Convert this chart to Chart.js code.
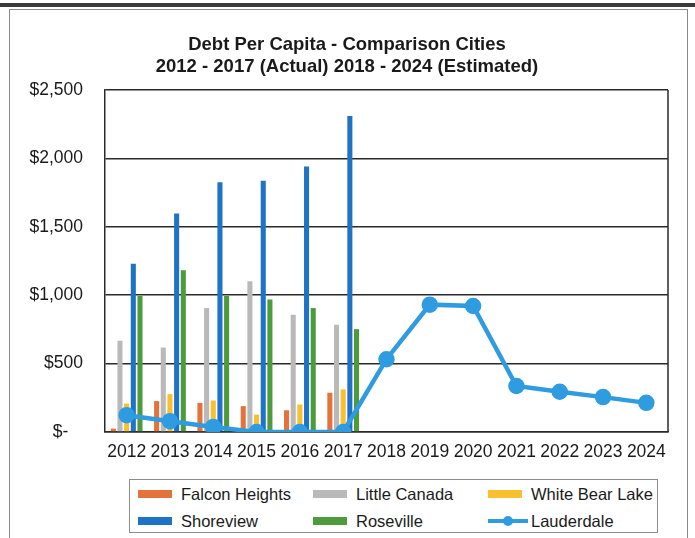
<!DOCTYPE html>
<html>
<head>
<meta charset="utf-8">
<script src="https://cdn.jsdelivr.net/npm/chart.js@4"></script>
<style>
  html, body { margin: 0; padding: 0; background: #fff; }
  body { width: 695px; height: 538px; position: relative; overflow: hidden; font-family: "Liberation Sans", Arial, sans-serif; }
  #topband { position: absolute; left: 0; top: 3px; width: 695px; height: 4px; background: #3a3a3a; }
  #frame { position: absolute; left: 9px; top: 9px; width: 679px; height: 540px; border: 1px solid #8a8a8a; box-sizing: border-box; }
  #wrap { position: absolute; left: 0; top: 0; width: 695px; height: 470px; }
  #legend { position: absolute; left: 129px; top: 479px; width: 529px; height: 54px; border: 1px solid #8c8c8c; box-sizing: border-box; }
  .item { position: absolute; height: 20px; font-size: 16.5px; color: #1a1a1a; line-height: 20px; white-space: nowrap; }
  .sw { position: absolute; left: 0; top: 6px; width: 34px; height: 8px; }
  .txt { position: absolute; left: 43px; top: 0; }
  .ln { position: absolute; left: 0; top: 8px; width: 40px; height: 4px; }
  .dot { position: absolute; left: 15px; top: 5px; width: 10px; height: 10px; border-radius: 50%; }
</style>
</head>
<body>
<div id="topband"></div>
<div id="frame"></div>
<div id="wrap"><canvas id="chart" width="695" height="470"></canvas></div>
<div id="legend"></div>
<script>
const years = ["2012", "2013", "2014", "2015", "2016", "2017", "2018", "2019", "2020", "2021", "2022", "2023", "2024"];

const falconHeights = [25, 226, 213, 189, 159, 287, null, null, null, null, null, null, null];
const littleCanada = [667, 617, 906, 1102, 857, 784, null, null, null, null, null, null, null];
const whiteBearLake = [208, 277, 230, 127, 201, 311, null, null, null, null, null, null, null];
const shoreview = [1230, 1597, 1825, 1837, 1940, 2310, null, null, null, null, null, null, null];
const roseville = [995, 1183, 995, 968, 906, 752, null, null, null, null, null, null, null];
const lauderdale = [123, 79, 37, 0, 0, 0, 532, 931, 921, 336, 294, 255, 213];

const yTickValues = [0, 500, 1000, 1500, 2000, 2500];
const yTickLabels = ["$-   ", "$500", "$1,000", "$1,500", "$2,000", "$2,500"];

const titleLines = ["Debt Per Capita - Comparison Cities", "2012 - 2017 (Actual) 2018 - 2024 (Estimated)"];

const colors = {
  falcon: "#e4733b",
  little: "#b9b9b9",
  white: "#f8bf2f",
  shore: "#1f73c7",
  rose: "#4e9b3b",
  laud: "#2f9be0"
};

const FONT = "'Liberation Sans', Arial, sans-serif";
const barOpts = { categoryPercentage: 0.77, barPercentage: 0.76 };

const plotBorder = {
  id: "plotBorder",
  afterDraw(chart) {
    const a = chart.chartArea;
    const ctx = chart.ctx;
    ctx.save();
    ctx.strokeStyle = "#2a2a2a";
    ctx.lineWidth = 1.5;
    ctx.beginPath();
    ctx.moveTo(a.right, a.top);
    ctx.lineTo(a.right, a.bottom);
    ctx.stroke();
    ctx.restore();
  }
};

const chart = new Chart(document.getElementById("chart"), {
  type: "bar",
  data: {
    labels: years,
    datasets: [
      { label: "Falcon Heights", data: falconHeights, backgroundColor: colors.falcon, ...barOpts },
      { label: "Little Canada", data: littleCanada, backgroundColor: colors.little, ...barOpts },
      { label: "White Bear Lake", data: whiteBearLake, backgroundColor: colors.white, ...barOpts },
      { label: "Shoreview", data: shoreview, backgroundColor: colors.shore, ...barOpts },
      { label: "Roseville", data: roseville, backgroundColor: colors.rose, ...barOpts },
      {
        type: "line",
        label: "Lauderdale",
        data: lauderdale,
        borderColor: colors.laud,
        backgroundColor: colors.laud,
        borderWidth: 4.5,
        pointRadius: 6,
        pointBackgroundColor: colors.laud,
        pointBorderColor: colors.laud,
        tension: 0,
        order: -1
      }
    ]
  },
  options: {
    responsive: false,
    animation: false,
    // left padding keeps the title centred where the original has it
    layout: { padding: { left: 26, right: 27, top: 0, bottom: 0 } },
    plugins: {
      legend: { display: false },
      tooltip: { enabled: false },
      title: {
        display: true,
        text: titleLines,
        color: "#1a1a1a",
        font: { family: FONT, size: 18.5, weight: "bold", lineHeight: 1.2 },
        padding: { top: 34, bottom: 11.6 }
      }
    },
    scales: {
      x: {
        grid: { display: false, drawTicks: false },
        border: { display: true, color: "#2a2a2a", width: 1.5 },
        ticks: {
          color: "#1a1a1a",
          padding: 10,
          maxRotation: 0,
          autoSkip: false,
          font: { family: FONT, size: 17.5 }
        },
        afterFit(scale) { scale.height = 38; }
      },
      y: {
        min: 0,
        max: 2500,
        afterBuildTicks(scale) { scale.ticks = yTickValues.map((v) => ({ value: v })); },
        grid: { color: "#2a2a2a", lineWidth: 1.5, drawTicks: false },
        border: { display: true, color: "#2a2a2a", width: 1.5 },
        ticks: {
          color: "#1a1a1a",
          padding: 22,
          font: { family: FONT, size: 17.5 },
          callback(value) {
            const i = yTickValues.indexOf(value);
            return i >= 0 ? yTickLabels[i] : "";
          }
        },
        afterFit(scale) { scale.width = 79; }
      }
    }
  },
  plugins: [plotBorder]
});

// legend in three columns, built from the datasets
const legendEl = document.getElementById("legend");
const colLeft = [8, 183, 358];
const rowTop = [4, 31];
chart.data.datasets.forEach((ds, i) => {
  const item = document.createElement("div");
  item.className = "item";
  item.style.left = colLeft[i % 3] + "px";
  item.style.top = rowTop[Math.floor(i / 3)] + "px";
  if (ds.type === "line") {
    item.innerHTML = '<div class="ln"></div><div class="dot"></div><span class="txt"></span>';
    item.querySelector(".ln").style.background = ds.borderColor;
    item.querySelector(".dot").style.background = ds.borderColor;
  } else {
    item.innerHTML = '<div class="sw"></div><span class="txt"></span>';
    item.querySelector(".sw").style.background = ds.backgroundColor;
  }
  item.querySelector(".txt").textContent = ds.label;
  legendEl.appendChild(item);
});
</script>
</body>
</html>
